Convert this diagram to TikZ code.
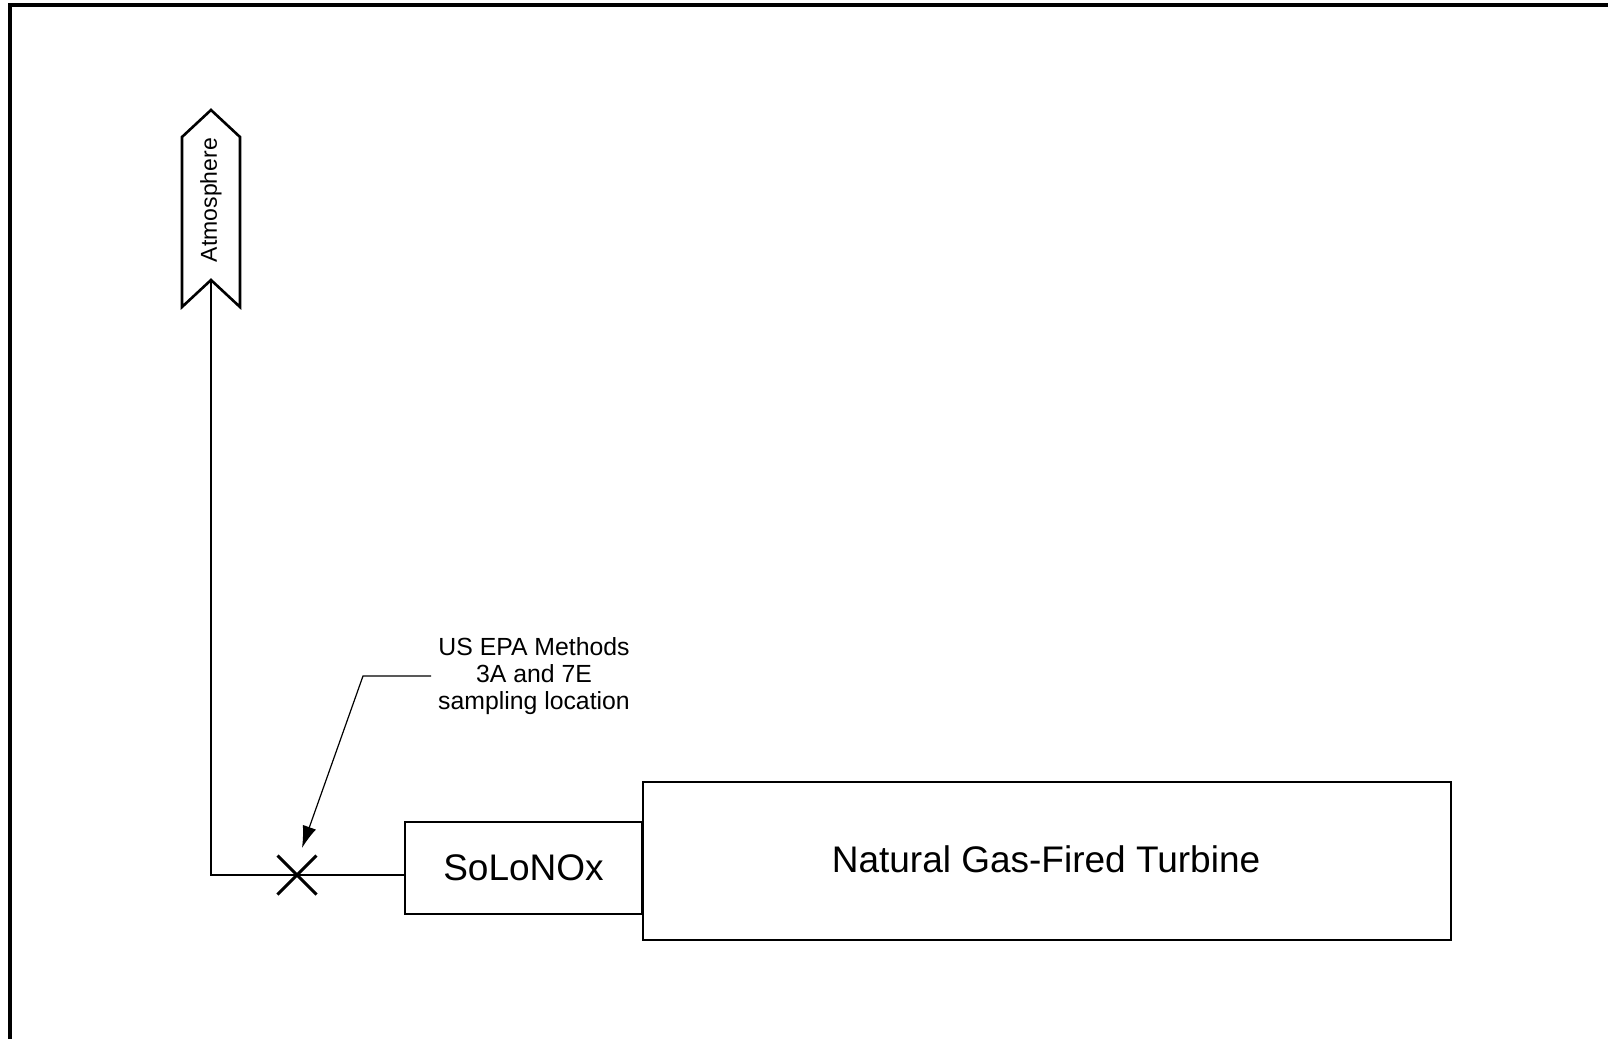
\documentclass[tikz,border=0pt]{standalone}
\usepackage{fontspec}
\setmainfont{Liberation Sans}
\usetikzlibrary{arrows.meta, shapes.misc}

\begin{document}
\begin{tikzpicture}[x=0.5pt, y=-0.5pt,
    unit/.style={draw, line width=1pt, minimum width=118.5pt, minimum height=46pt,
                 inner sep=0pt, font=\fontsize{18.5}{22}\selectfont},
    flow/.style={line width=0.6pt},
    leader/.style={line width=0.6pt, -{Latex[length=11pt, width=7pt]}}]

    \useasboundingbox (0,0) rectangle (1608,1039);

    % ---- Frame ----
    \draw[line width=1.8pt] (10,1039) -- (10,5) -- (1608,5);

    % ---- Equipment ----
    \node[unit] (solonox) at (523.5,868) {SoLoNOx};
    \node[unit, minimum width=404pt, minimum height=79pt] (turbine) at (1047,861) {};
    \node[font=\fontsize{18.5}{22}\selectfont] (turblabel) at (1046,859) {Natural Gas-Fired Turbine};

    % ---- Stack to atmosphere ----
    \draw[line width=1.3pt, fill=white]
        (182,137) -- (211,110) -- (240,137) -- (240,307) -- (211,280) -- (182,307) -- cycle;
    \node[rotate=90, font=\fontsize{11.5}{13}\selectfont] (atm) at (211,200) {Atmosphere};
    \coordinate (atmbot) at (211,280);
    \coordinate (corner) at (211,875);

    % ---- Sampling point ----
    \node[cross out, draw, line width=1.5pt, minimum size=18pt, inner sep=0pt] (xmark) at (297,875) {};
    \draw[flow] (solonox.west |- xmark) -- (corner) -- (atmbot);

    % ---- Callout ----
    \node[align=center, font=\fontsize{12.4}{13.5}\selectfont] (callout) at (534,676)
        {US EPA Methods\\3A and 7E\\sampling location};
    \coordinate (bend) at (363,677);
    \coordinate (tip) at (302,848);
    \draw[leader] (callout.west) -- (bend |- callout.west) -- (tip);

\end{tikzpicture}
\end{document}
